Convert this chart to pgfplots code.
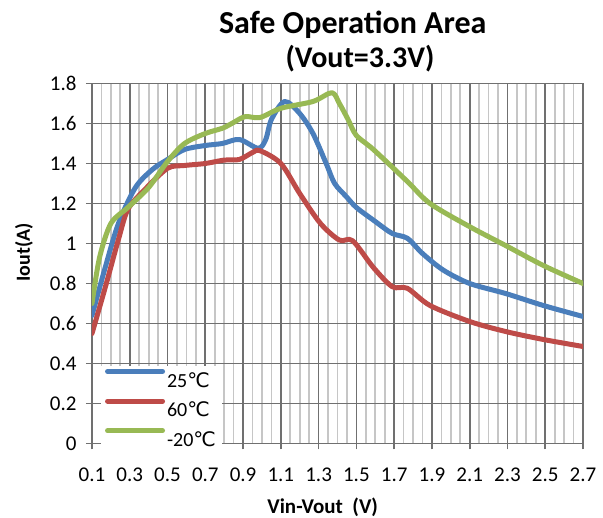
\documentclass[border=0pt]{standalone}
\usepackage{pgfplots}
\pgfplotsset{compat=1.18}
\usepackage{fontspec}
\setmainfont{Carlito}
\newfontfamily\dejavu{DejaVu Sans}
\definecolor{cblue}{HTML}{4A7EBB}
\definecolor{cred}{HTML}{BE4B48}
\definecolor{cgreen}{HTML}{98B954}
\definecolor{gridd}{HTML}{707070}
\definecolor{gridl}{HTML}{C6C6C6}
\newcommand{\degC}{{\dejavu\char"2103}}
\begin{document}
\begin{tikzpicture}
\useasboundingbox (-92pt,-74.5pt) rectangle (511pt,443.5pt);
\begin{axis}[
  at={(0pt,0pt)}, anchor=south west,
  scale only axis, width=491pt, height=360pt,
  xmin=0.1, xmax=2.7, ymin=0, ymax=1.8,
  xtick={0.1,0.3,0.5,0.7,0.9,1.1,1.3,1.5,1.7,1.9,2.1,2.3,2.5,2.7},
  ytick={0,0.2,0.4,0.6,0.8,1,1.2,1.4,1.6,1.8},
  minor xtick={0.15,0.2,0.25,0.35,0.4,0.45,0.55,0.6,0.65,0.75,0.8,0.85,0.95,1.0,1.05,1.15,1.2,1.25,1.35,1.4,1.45,1.55,1.6,1.65,1.75,1.8,1.85,1.95,2.0,2.05,2.15,2.2,2.25,2.35,2.4,2.45,2.55,2.6,2.65},
  grid=both,
  major grid style={draw=gridd,line width=1.7pt},
  minor grid style={draw=gridl,line width=1.7pt},
  axis line style={draw=gridd,line width=1.7pt},
  tick style={draw=gridd,line width=1.7pt},
  major tick length=6pt, minor tick length=0pt,
  tick align=outside,
  xtick pos=bottom, ytick pos=left,
  /pgf/number format/assume math mode=true,
  xticklabel style={/pgf/number format/fixed,/pgf/number format/fixed zerofill,/pgf/number format/precision=1, yshift=-15pt},
  ticklabel style={font=\fontsize{21}{25}\selectfont},
  yticklabel style={xshift=-6pt},
  legend style={at={(0.018,0.216)}, anchor=north west, draw=none, fill=white,
    font=\fontsize{20}{24}\selectfont, row sep=8pt, inner xsep=4pt, inner ysep=3pt},
  legend cell align=left,
  legend image code/.code={\draw[#1,line width=5pt,line cap=round] (0pt,9pt) -- (55pt,9pt);},
  every axis plot/.append style={line width=5pt, smooth, tension=0.5, line join=round, line cap=round},
]
\addplot[cblue] coordinates {
(0.10,0.64) (0.17,0.88) (0.24,1.10) (0.33,1.28) (0.42,1.37) (0.50,1.42)
(0.59,1.47) (0.70,1.49) (0.79,1.50) (0.88,1.52) (0.98,1.476) (1.02,1.52)
(1.05,1.62) (1.12,1.71) (1.20,1.65) (1.27,1.55) (1.34,1.40) (1.385,1.30)
(1.447,1.234) (1.50,1.18) (1.60,1.11) (1.69,1.05) (1.77,1.026) (1.85,0.95)
(1.96,0.867) (2.10,0.80) (2.29,0.75) (2.49,0.69) (2.70,0.635)};
\addlegendentry{25\degC}
\addplot[cred] coordinates {
(0.10,0.55) (0.17,0.78) (0.24,1.02) (0.29,1.17) (0.38,1.27) (0.50,1.376)
(0.59,1.39) (0.70,1.40) (0.80,1.417) (0.88,1.42) (0.95,1.455) (0.99,1.464)
(1.10,1.40) (1.20,1.25) (1.31,1.10) (1.41,1.017) (1.48,1.014) (1.59,0.88)
(1.69,0.784) (1.77,0.776) (1.89,0.69) (2.10,0.61) (2.29,0.56) (2.49,0.52)
(2.70,0.485)};
\addlegendentry{60\degC}
\addplot[cgreen] coordinates {
(0.10,0.70) (0.14,0.93) (0.20,1.10) (0.29,1.18) (0.40,1.28) (0.50,1.41)
(0.59,1.50) (0.70,1.55) (0.79,1.576) (0.84,1.60) (0.91,1.634) (0.99,1.63)
(1.10,1.676) (1.27,1.71) (1.37,1.754) (1.41,1.70) (1.456,1.62) (1.50,1.54)
(1.59,1.47) (1.77,1.31) (1.89,1.20) (2.10,1.084) (2.29,0.99) (2.49,0.89)
(2.70,0.80)};
\addlegendentry{-20\degC}
\end{axis}
\node[anchor=base,font=\bfseries\fontsize{32}{36}\selectfont] at (260.8pt,410.2pt) {Safe Operation Area};
\node[anchor=base,font=\bfseries\fontsize{30}{34}\selectfont] at (268pt,375.8pt) {(Vout=3.3V)};
\node[anchor=base,font=\bfseries\fontsize{21}{24}\selectfont] at (230.7pt,-69.8pt) {Vin-Vout\ \ (V)};
\node[rotate=90,anchor=center,font=\bfseries\fontsize{20}{24}\selectfont] at (-68pt,191pt) {Iout(A)};
\end{tikzpicture}
\end{document}
